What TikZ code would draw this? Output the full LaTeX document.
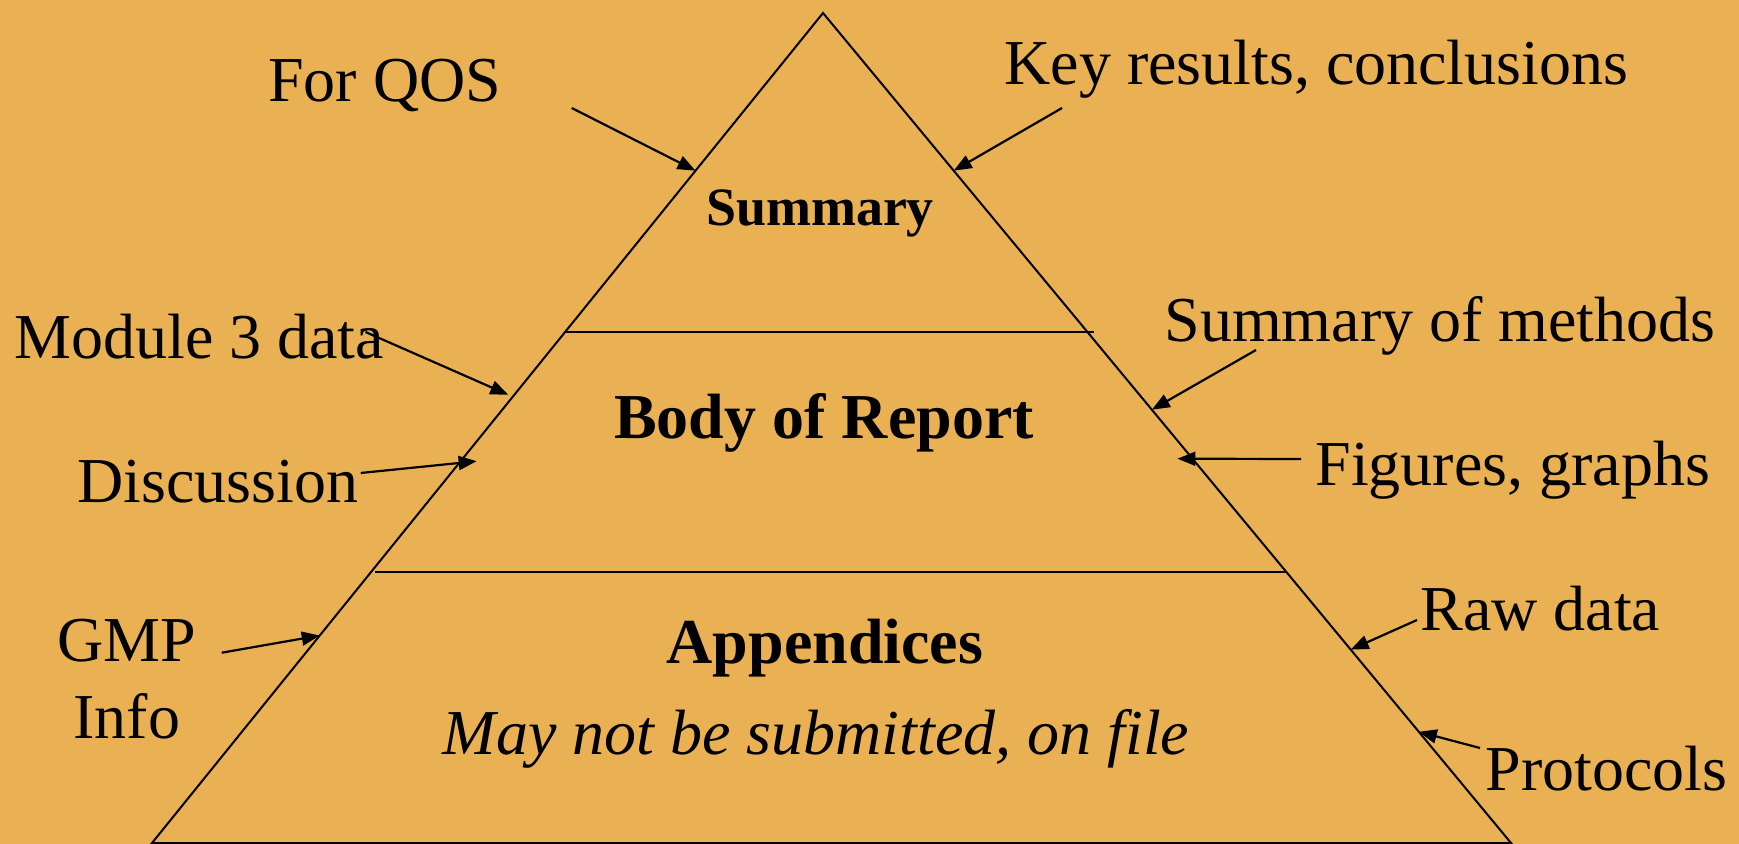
\documentclass[tikz,border=0pt]{standalone}
\usepackage{fontspec}
\setmainfont{Liberation Serif}
\usetikzlibrary{arrows.meta}
\usetikzlibrary{calc}

\definecolor{paper}{RGB}{233,177,83}

\begin{document}
\begin{tikzpicture}[x=0.5pt,y=-0.5pt]
			\tikzset{note/.style={inner sep=0pt, anchor=base west, font=\fontsize{32}{38.4}\selectfont}}
			\tikzset{layer/.style={inner sep=0pt, anchor=base, font=\bfseries\fontsize{32}{38.4}\selectfont}}
			\tikzset{pointer/.style={-{Triangle[length=9pt,width=7pt]}, line width=1.1pt}}
			%background
			\fill[paper] (0,0) rectangle (1739,844);
			\useasboundingbox (0,0) rectangle (1739,844);
			%pyramid
			\coordinate (top) at (823,13);
			\coordinate (bl) at (152,843);
			\coordinate (br) at (1511,843);
			\draw[line width=1pt] (bl) -- (top) -- (br) -- cycle;
			\draw[line width=1pt] ($(top)!0.384!(bl)$) -- ($(top)!0.384!(br)+(7,0)$);
			\draw[line width=1pt] ($(top)!0.673!(bl)+(4,0)$) -- ($(top)!0.673!(br)$);
			%layers
			\node[layer, font=\bfseries\fontsize{27}{32}\selectfont] (summ) at (820,226) {Summary};
			\node[layer] (body) at (824,438) {Body of Report};
			\node[layer] (app) at (825,663) {Appendices};
			\node[layer, font=\itshape\fontsize{32}{38.4}\selectfont] (file) at (816,754) {May not be submitted, on file};
			%notes
			\node[note] (qos) at (268,102) {For QOS};
			\node[note] (key) at (1004,85) {Key results, conclusions};
			\node[note] (mod) at (14,358) {Module 3 data};
			\node[note] (disc) at (77,502) {Discussion};
			\node[note, anchor=center, align=center] (gmp) at (127,679) {GMP\\Info};
			\node[note] (meth) at (1164,342) {Summary of methods};
			\node[note] (fig) at (1315,485) {Figures, graphs};
			\node[note] (raw) at (1420,630) {Raw data};
			\node[note] (prot) at (1485,790) {Protocols};
			%points on the sides
			\coordinate (pqos) at ($(top)!0.19!(bl)$);
			\coordinate (pkey) at ($(top)!0.19!(br)$);
			\coordinate (pmod) at ($(top)!0.46!(bl)+(-6,0)$);
			\coordinate (pdisc) at ($(top)!0.54!(bl)+(16,0)$);
			\coordinate (pgmp) at ($(top)!0.75!(bl)$);
			\coordinate (pmeth) at ($(top)!0.478!(br)$);
			\coordinate (pfig) at ($(top)!0.537!(br)+(-15,0)$);
			\coordinate (praw) at ($(top)!0.767!(br)$);
			\coordinate (pprot) at ($(top)!0.866!(br)$);
			%arrows
			\draw[pointer] ($(qos.base east)+(70,6)$) -- (pqos);
			\draw[pointer] ($(key.base west)+(58,23)$) -- (pkey);
			\draw[pointer] ($(mod.base east)+(-19,-26)$) -- (pmod);
			\draw[pointer] ($(disc.base east)+(2,-29)$) -- (pdisc);
			\draw[pointer] ($(gmp.north east)+(25,34)$) -- (pgmp);
			\draw[pointer] ($(meth.base west)+(92,8)$) -- (pmeth);
			\draw[pointer] ($(fig.base west)+(-14,-26)$) -- (pfig);
			\draw[pointer] ($(raw.base west)+(-3,-10)$) -- (praw);
			\draw[pointer] ($(prot.base west)+(-5,-42)$) -- (pprot);
\end{tikzpicture}
\end{document}
